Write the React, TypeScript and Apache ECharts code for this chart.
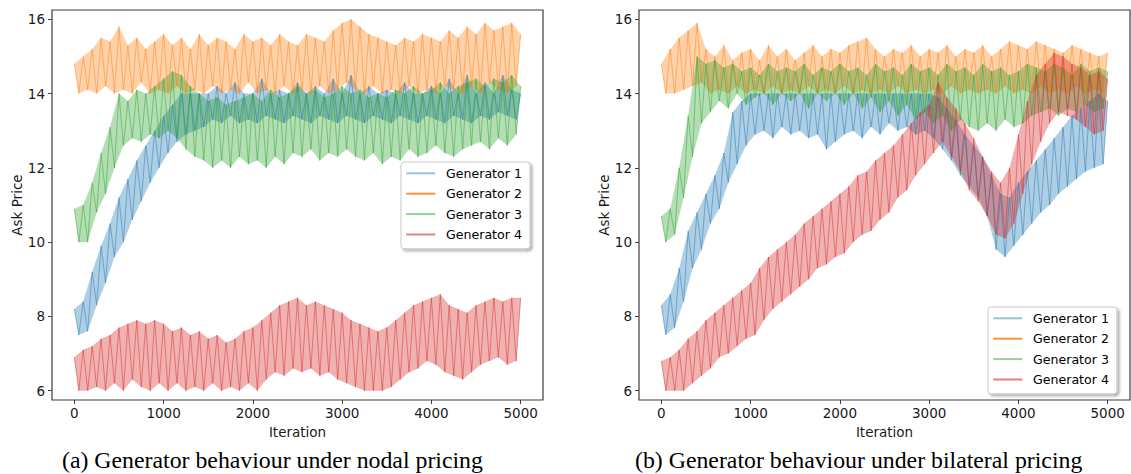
import React, { useEffect, useRef } from "react";
import * as echarts from "echarts";

// Iteration spacing between successive readings of each series
const STEP = 50;
const xTicks = [0, 1000, 2000, 3000, 4000, 5000];
const yTicks = [6, 8, 10, 12, 14, 16];
const names = ["Generator 1", "Generator 2", "Generator 3", "Generator 4"];
const colors = ["#1f77b4", "#ff7f0e", "#2ca02c", "#d62728"];
const legendColors = [
  "rgba(31,119,180,0.45)",
  "rgba(255,127,14,0.85)",
  "rgba(44,160,44,0.5)",
  "rgba(214,39,40,0.6)",
];
const captions = [
  "(a) Generator behaviour under nodal pricing",
  "(b) Generator behaviour under bilateral pricing",
];

// ---- (a) nodal pricing: ask price read every 50 iterations, 0..5000 ----
const nodalGen1 = [
  8.2, 7.5, 8.4, 7.6, 9.2, 8.3, 9.9, 8.9, 10.5, 9.6,
  11.2, 10.0, 11.7, 10.6, 12.2, 11.1, 12.6, 11.6, 13.0, 12.0,
  13.4, 12.4, 13.7, 12.7, 14.0, 12.9, 14.0, 13.0, 14.0, 13.1,
  14.0, 13.3, 14.2, 13.2, 14.0, 13.4, 14.3, 13.2, 14.0, 13.3,
  14.0, 13.2, 14.4, 13.4, 14.0, 13.3, 14.1, 13.2, 14.0, 13.4,
  14.3, 13.3, 14.0, 13.2, 14.2, 13.4, 14.0, 13.3, 14.4, 13.2,
  14.0, 13.4, 14.5, 13.3, 14.0, 13.2, 14.2, 13.4, 14.0, 13.3,
  14.1, 13.2, 14.0, 13.4, 14.3, 13.3, 14.0, 13.2, 14.0, 13.4,
  14.2, 13.3, 14.0, 13.2, 14.4, 13.4, 14.0, 13.3, 14.5, 13.2,
  14.0, 13.4, 14.3, 13.3, 14.0, 13.5, 14.5, 13.4, 14.1, 13.3,
  14.0,
];
const nodalGen2 = [
  14.8, 14.0, 15.0, 14.1, 15.2, 14.0, 15.5, 14.2, 15.4, 14.0,
  15.8, 14.1, 15.3, 14.0, 15.5, 14.3, 15.2, 14.0, 15.4, 14.1,
  15.6, 14.0, 15.3, 14.2, 15.5, 14.0, 15.2, 14.1, 15.6, 14.0,
  15.3, 14.2, 15.5, 14.0, 15.4, 14.1, 15.2, 14.0, 15.6, 14.3,
  15.4, 14.0, 15.5, 14.1, 15.3, 14.0, 15.6, 14.2, 15.4, 14.0,
  15.3, 14.1, 15.6, 14.0, 15.5, 14.2, 15.4, 14.0, 15.7, 14.1,
  15.9, 14.3, 16.0, 14.1, 15.8, 14.0, 15.6, 14.2, 15.5, 14.0,
  15.4, 14.1, 15.3, 14.0, 15.5, 14.2, 15.4, 14.0, 15.6, 14.1,
  15.5, 14.0, 15.4, 14.2, 15.7, 14.1, 15.5, 14.0, 15.8, 14.2,
  15.6, 14.0, 15.9, 14.3, 15.7, 14.1, 15.8, 14.0, 15.9, 14.2,
  15.6,
];
const nodalGen3 = [
  10.9, 10.0, 11.0, 10.0, 11.6, 10.8, 12.4, 11.3, 13.1, 12.0,
  14.0, 12.6, 13.8, 12.8, 14.1, 12.7, 14.0, 12.9, 14.2, 12.8,
  14.4, 13.0, 14.6, 12.8, 14.5, 12.5, 14.2, 12.3, 14.0, 12.2,
  13.8, 12.0, 13.9, 12.2, 13.7, 12.0, 13.8, 12.3, 13.9, 12.1,
  14.0, 12.2, 13.8, 12.0, 14.1, 12.3, 13.9, 12.1, 14.0, 12.4,
  14.2, 12.3, 14.0, 12.5, 14.1, 12.2, 13.9, 12.4, 14.0, 12.3,
  14.2, 12.5, 14.0, 12.3, 14.1, 12.2, 13.9, 12.4, 14.0, 12.1,
  13.9, 12.3, 14.1, 12.2, 14.0, 12.5, 14.2, 12.3, 14.0, 12.4,
  14.1, 12.6, 14.3, 12.4, 14.0, 12.3, 14.2, 12.5, 14.3, 12.6,
  14.4, 12.7, 14.2, 12.5, 14.4, 12.8, 14.3, 12.6, 14.5, 12.9,
  14.2,
];
const nodalGen4 = [
  6.9, 6.0, 7.1, 6.0, 7.2, 6.1, 7.4, 6.0, 7.5, 6.2,
  7.7, 6.0, 7.8, 6.3, 7.9, 6.1, 7.8, 6.0, 7.9, 6.2,
  7.8, 6.0, 7.6, 6.2, 7.7, 6.0, 7.5, 6.1, 7.6, 6.0,
  7.4, 6.2, 7.5, 6.0, 7.3, 6.1, 7.4, 6.0, 7.6, 6.2,
  7.7, 6.0, 7.9, 6.3, 8.1, 6.5, 8.3, 6.4, 8.4, 6.6,
  8.5, 6.5, 8.3, 6.6, 8.4, 6.4, 8.3, 6.5, 8.2, 6.3,
  8.1, 6.2, 7.9, 6.1, 7.8, 6.0, 7.7, 6.0, 7.6, 6.0,
  7.7, 6.1, 7.9, 6.3, 8.1, 6.5, 8.3, 6.6, 8.4, 6.8,
  8.5, 6.7, 8.6, 6.5, 8.3, 6.4, 8.2, 6.3, 8.1, 6.5,
  8.3, 6.7, 8.4, 6.8, 8.5, 6.9, 8.4, 6.7, 8.5, 6.8,
  8.5,
];

// ---- (b) bilateral pricing ----
const bilatGen1 = [
  8.3, 7.5, 8.6, 7.7, 9.3, 8.4, 10.3, 9.3, 10.8, 9.8,
  11.3, 10.5, 11.8, 10.9, 12.4, 11.6, 13.5, 12.1, 13.8, 12.6,
  14.0, 12.9, 14.0, 13.0, 14.0, 12.8, 14.0, 13.1, 14.0, 12.9,
  14.0, 13.0, 14.0, 12.8, 14.0, 12.9, 14.0, 12.5, 14.0, 12.7,
  14.0, 12.9, 14.0, 13.0, 14.0, 12.8, 14.0, 13.1, 14.0, 12.9,
  14.0, 13.2, 14.0, 13.0, 14.0, 13.1, 14.0, 12.9, 14.0, 13.0,
  14.0, 12.8, 13.9, 12.5, 13.6, 12.2, 13.3, 11.8, 12.9, 11.5,
  12.6, 11.2, 12.3, 10.7, 11.8, 9.8, 11.3, 9.6, 11.2, 9.9,
  11.6, 10.2, 11.9, 10.5, 12.2, 10.8, 12.5, 11.0, 12.8, 11.3,
  13.1, 11.5, 13.4, 11.7, 13.6, 11.9, 13.8, 12.0, 14.0, 12.1,
  13.8,
];
const bilatGen2 = [
  14.8, 14.0, 15.2, 14.0, 15.5, 14.1, 15.7, 14.2, 15.9, 14.3,
  15.2, 14.0, 15.0, 14.1, 15.3, 14.0, 14.9, 14.2, 15.1, 14.0,
  15.2, 14.1, 14.9, 14.0, 15.3, 14.2, 15.0, 14.0, 15.2, 14.1,
  14.9, 14.0, 15.1, 14.2, 15.3, 14.0, 15.0, 14.1, 15.2, 14.0,
  15.1, 14.2, 15.3, 14.0, 15.4, 14.1, 15.5, 14.0, 15.2, 14.1,
  15.0, 14.0, 15.2, 14.2, 15.1, 14.0, 15.3, 14.1, 15.0, 14.0,
  15.2, 14.1, 15.1, 14.0, 15.3, 14.2, 15.0, 14.0, 15.2, 14.1,
  15.1, 14.0, 15.3, 14.1, 15.0, 14.0, 15.2, 14.2, 15.4, 14.0,
  15.3, 14.1, 15.2, 14.0, 15.4, 14.2, 15.3, 14.0, 15.2, 14.1,
  15.1, 14.0, 15.3, 14.2, 15.2, 14.0, 15.1, 14.1, 15.0, 14.0,
  15.1,
];
const bilatGen3 = [
  10.7, 10.0, 10.9, 10.2, 12.0, 11.2, 13.4, 12.3, 15.0, 13.2,
  14.8, 13.5, 14.9, 13.8, 14.7, 13.6, 14.8, 14.0, 14.6, 13.7,
  14.7, 13.9, 14.5, 14.0, 14.8, 13.7, 14.6, 14.0, 14.7, 13.8,
  14.6, 14.0, 14.8, 13.6, 14.5, 14.0, 14.7, 13.8, 14.6, 14.0,
  14.8, 13.7, 14.6, 14.0, 14.7, 13.6, 14.5, 13.9, 14.8, 13.5,
  14.6, 13.8, 14.7, 13.4, 14.5, 13.7, 14.8, 13.3, 14.6, 13.5,
  14.7, 13.2, 14.5, 13.4, 14.8, 13.0, 14.6, 13.3, 14.7, 13.1,
  14.5, 13.0, 14.8, 13.2, 14.6, 13.0, 14.7, 13.3, 14.5, 13.1,
  14.6, 13.2, 14.8, 13.4, 14.7, 13.5, 14.6, 13.6, 14.8, 13.4,
  14.7, 13.6, 14.5, 13.5, 14.8, 13.7, 14.6, 13.5, 14.7, 13.6,
  14.6,
];
const bilatGen4 = [
  6.8, 6.0, 6.9, 6.0, 7.1, 6.0, 7.4, 6.2, 7.6, 6.4,
  7.9, 6.6, 8.1, 6.9, 8.3, 7.0, 8.5, 7.2, 8.7, 7.4,
  8.9, 7.5, 9.3, 7.9, 9.6, 8.2, 9.8, 8.4, 10.0, 8.6,
  10.2, 8.8, 10.5, 9.0, 10.7, 9.3, 10.9, 9.4, 11.1, 9.6,
  11.3, 9.7, 11.5, 10.0, 11.8, 10.2, 11.9, 10.3, 12.2, 10.6,
  12.4, 10.8, 12.6, 11.2, 12.9, 11.4, 13.2, 11.8, 13.5, 12.1,
  13.7, 12.4, 14.3, 12.7, 13.9, 12.3, 13.6, 11.9, 13.2, 11.4,
  12.8, 11.1, 12.3, 10.7, 11.9, 10.2, 11.6, 10.1, 12.0, 10.5,
  12.9, 11.3, 13.8, 12.1, 14.5, 12.7, 14.8, 13.2, 15.1, 13.5,
  15.0, 13.4, 14.8, 13.3, 14.7, 13.1, 14.5, 12.9, 14.6, 13.0,
  14.4,
];

const nodal = [nodalGen1, nodalGen2, nodalGen3, nodalGen4];
const bilateral = [bilatGen1, bilatGen2, bilatGen3, bilatGen4];

const toPairs = (vals: number[]) => vals.map((v, i) => [i * STEP, v]);

const FONT = "DejaVu Sans";
const INK = "#1a1a1a";
const FRAME = "#3c3c3c";

const GRIDS = [
  { left: 52, top: 10, width: 491, height: 390 },
  { left: 639, top: 10, width: 491, height: 390 },
];

function makeXAxis(gridIndex: number) {
  return {
    type: "value",
    gridIndex,
    min: -250,
    max: 5250,
    axisLine: { show: false, onZero: false },
    splitLine: { show: false },
    axisTick: {
      show: true,
      length: 4,
      customValues: xTicks,
      lineStyle: { color: FRAME, width: 1 },
    },
    axisLabel: {
      customValues: xTicks,
      formatter: (v: number) => String(v),
      margin: 6,
      fontSize: 13.5,
      fontFamily: FONT,
      color: INK,
    },
    name: "Iteration",
    nameLocation: "middle",
    nameGap: 22,
    nameTextStyle: { fontSize: 13.5, fontFamily: FONT, color: INK },
  };
}

function makeYAxis(gridIndex: number) {
  return {
    type: "value",
    gridIndex,
    min: 5.75,
    max: 16.25,
    axisLine: { show: false, onZero: false },
    splitLine: { show: false },
    axisTick: {
      show: true,
      length: 4,
      customValues: yTicks,
      lineStyle: { color: FRAME, width: 1 },
    },
    axisLabel: {
      customValues: yTicks,
      formatter: (v: number) => String(v),
      margin: 7,
      fontSize: 13.5,
      fontFamily: FONT,
      color: INK,
    },
    name: "Ask Price",
    nameLocation: "middle",
    nameRotate: 90,
    nameGap: 27,
    nameTextStyle: { fontSize: 13.5, fontFamily: FONT, color: INK },
  };
}

function makeLegend(left: number, top: number) {
  return {
    left,
    top,
    orient: "vertical",
    itemWidth: 29,
    itemHeight: 2,
    itemGap: 6.4,
    padding: [4.3, 7.9, 7.2, 5.3],
    backgroundColor: "#ffffff",
    borderColor: "#cccccc",
    borderWidth: 1,
    borderRadius: 3,
    shadowBlur: 3,
    shadowOffsetX: 2,
    shadowOffsetY: 2,
    shadowColor: "rgba(0,0,0,0.35)",
    selectedMode: false,
    textStyle: {
      fontSize: 12.6,
      fontFamily: FONT,
      color: "#000",
      lineHeight: 14,
      padding: [0, 0, 0, 5.7],
    },
    data: names.map((name, i) => ({
      name,
      icon: "rect",
      itemStyle: { color: legendColors[i] },
    })),
  };
}

// Light band spanning the readings (upper readings forward, lower readings back)
function makeBand(vals: number[], color: string, axisIndex: number) {
  return {
    type: "custom",
    xAxisIndex: axisIndex,
    yAxisIndex: axisIndex,
    silent: true,
    data: [[0, vals[0]]],
    renderItem: (_params: any, api: any) => {
      const upper: number[][] = [];
      const lower: number[][] = [];
      vals.forEach((v, i) => {
        const p = api.coord([i * STEP, v]);
        if (i % 2 === 0) upper.push(p);
        else lower.push(p);
      });
      return {
        type: "polygon",
        shape: { points: upper.concat(lower.reverse()) },
        style: { fill: color, opacity: 0.36 },
      };
    },
  };
}

function makeSeries(sets: number[][], axisIndex: number) {
  const out: any[] = [];
  sets.forEach((vals, i) => {
    out.push(makeBand(vals, colors[i], axisIndex));
    out.push({
      type: "line",
      name: names[i],
      xAxisIndex: axisIndex,
      yAxisIndex: axisIndex,
      data: toPairs(vals),
      showSymbol: false,
      symbol: "none",
      silent: true,
      color: colors[i],
      lineStyle: { color: colors[i], width: 0.8, opacity: 0.6 },
    });
  });
  return out;
}

export default function App() {
  const ref = useRef<HTMLDivElement | null>(null);

  useEffect(() => {
    if (!ref.current) return;
    const chart = echarts.init(ref.current, null, { renderer: "svg" });
    chart.setOption({
      animation: false,
      backgroundColor: "#ffffff",
      grid: GRIDS.map((g) => ({
        ...g,
        show: true,
        borderColor: FRAME,
        borderWidth: 1.2,
        backgroundColor: "transparent",
        containLabel: false,
      })),
      xAxis: [makeXAxis(0), makeXAxis(1)],
      yAxis: [makeYAxis(0), makeYAxis(1)],
      legend: [makeLegend(401, 162), makeLegend(988, 307)],
      series: [...makeSeries(nodal, 0), ...makeSeries(bilateral, 1)],
      graphic: [
        {
          type: "text",
          x: 62,
          y: 460,
          style: {
            text: captions[0],
            fontSize: 23.8,
            fontFamily: "Liberation Serif",
            fill: "#000",
            verticalAlign: "middle",
          },
        },
        {
          type: "text",
          x: 635,
          y: 460,
          style: {
            text: captions[1],
            fontSize: 23.8,
            fontFamily: "Liberation Serif",
            fill: "#000",
            verticalAlign: "middle",
          },
        },
      ],
    });
    return () => chart.dispose();
  }, []);

  return (
    <div
      ref={ref}
      style={{ position: "fixed", left: 0, top: 0, width: 1131, height: 474 }}
    />
  );
}
